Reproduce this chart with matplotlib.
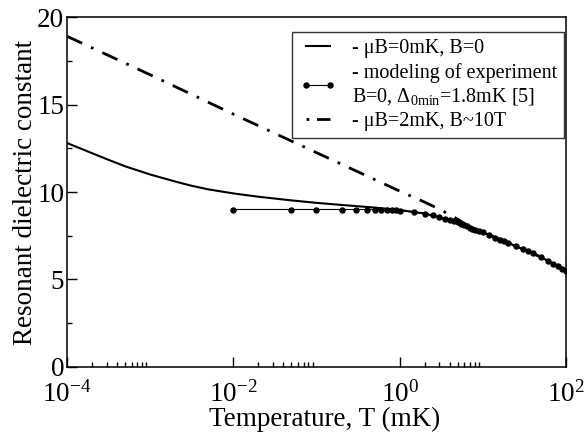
import matplotlib
matplotlib.use("Agg")
import matplotlib.pyplot as plt
from matplotlib.ticker import FixedLocator, NullFormatter

plt.rcParams['font.family'] = ['Liberation Serif', 'DejaVu Serif']
plt.rcParams['mathtext.fontset'] = 'custom'
plt.rcParams['mathtext.rm'] = 'Liberation Serif'
plt.rcParams['mathtext.it'] = 'Liberation Serif:italic'

# mu B = 0, B = 0 (solid)
T_SOLID = [1e-4, 2e-4, 3e-4, 5e-4, 1e-3, 2e-3, 3e-3, 5e-3, 1e-2, 2e-2, 5e-2, 0.1, 0.2, 0.5,
           1, 2, 5, 10, 20, 50, 100]
EPS_SOLID = [12.8, 12.22, 11.88, 11.47, 11.0, 10.6, 10.38, 10.15, 9.92, 9.73, 9.52, 9.38, 9.26, 9.11,
             8.97, 8.77, 8.27, 7.7, 7.1, 6.28, 5.5]

# modeling of experiment (dots)
T_EXP = [0.01, 0.05, 0.1, 0.2, 0.3, 0.4, 0.5, 0.6, 0.7, 0.8, 0.9, 1.0,
         1.5, 2, 2.5, 3, 3.5, 4, 4.5, 5, 5.5, 6, 6.5, 7, 7.5, 8, 9, 10,
         12, 14, 16, 18, 20, 25, 30, 35, 40, 50, 60, 70, 80, 90, 100]
EPS_EXP = [9.0, 9.0, 9.0, 9.0, 9.0, 9.0, 9.0, 8.99, 8.98, 8.97, 8.95, 8.93,
           8.85, 8.76, 8.66, 8.56, 8.48, 8.41, 8.34, 8.27, 8.19, 8.10, 8.04, 7.96, 7.90, 7.85, 7.76, 7.7,
           7.53, 7.39, 7.28, 7.18, 7.1, 6.92, 6.76, 6.63, 6.52, 6.28, 6.07, 5.9, 5.75, 5.62, 5.5]

# mu B = 2 mK, B ~ 10 T (dash-dot)
T_DASH = [1e-4, 1e-3, 1e-2, 0.1, 1, 2, 3, 4, 5, 6, 7, 10, 20, 50, 100]
EPS_DASH = [18.9, 16.7, 14.45, 12.25, 10.05, 9.42, 9.02, 8.7, 8.44, 8.2, 8.0, 7.7, 7.1, 6.28, 5.5]

XTICKS = [1e-4, 1e-2, 1, 1e2]
XTICK_LABELS = [r'$\mathregular{10^{-4}}$', r'$\mathregular{10^{-2}}$',
                r'$\mathregular{10^{0}}$', r'$\mathregular{10^{2}}$']
YTICKS = [0, 5, 10, 15, 20]

fig = plt.figure(figsize=(5.84, 4.32), dpi=100)
ax = fig.add_axes([0.1147, 0.1505, 0.8545, 0.8101])

ax.plot(T_SOLID, EPS_SOLID, color='black', lw=1.5, label='- μB=0mK, B=0')
ax.plot(T_EXP, EPS_EXP, color='black', lw=0.8, marker='o', ms=3.6,
        label='- modeling of experiment\nB=0, $\\mathregular{\\Delta_{0min}}$=1.8mK [5]')
ax.plot(T_DASH, EPS_DASH, color='black', lw=2.0, dashes=(6, 3.5, 1, 3.5),
        label='- μB=2mK, B~10T')

ax.set_xscale('log')
ax.set_xlim(1e-4, 1e2)
ax.set_ylim(0, 20)

ax.xaxis.set_major_locator(FixedLocator(XTICKS))
ax.set_xticklabels(XTICK_LABELS)
minors = [m * 10.0 ** d for d in (-4, -2, 0) for m in range(2, 10)]
ax.xaxis.set_minor_locator(FixedLocator(minors))
ax.xaxis.set_minor_formatter(NullFormatter())
ax.yaxis.set_major_locator(FixedLocator(YTICKS))
ax.yaxis.set_minor_locator(FixedLocator([2.5, 7.5, 12.5, 17.5]))

ax.tick_params(which='both', direction='in', top=False, right=False, labelsize=19.5, width=1.0)
ax.tick_params(which='major', length=7)
ax.tick_params(which='minor', length=3.6)
ax.tick_params(axis='x', pad=10.5)
ax.tick_params(axis='y', pad=2)
for s in ax.spines.values():
    s.set_linewidth(1.1)

ax.set_xlabel('Temperature, T (mK)', fontsize=19.5)
ax.xaxis.set_label_coords(0.516, -0.113)
ax.set_ylabel('Resonant dielectric constant', fontsize=19.5, labelpad=-1)

leg = ax.legend(loc='upper right', bbox_to_anchor=(0.996, 0.957), borderaxespad=0,
                fontsize=14.5, frameon=True, fancybox=False, edgecolor='black',
                handlelength=1.8, handletextpad=0.8, labelspacing=0.25,
                borderpad=0.35, numpoints=2)
leg.get_frame().set_linewidth(1.0)
# dot - dash - dot in the legend sample, like the original
leg.get_lines()[2].set_dashes((1, 2.8, 5, 2.8))

fig.savefig('out.png', dpi=100)
